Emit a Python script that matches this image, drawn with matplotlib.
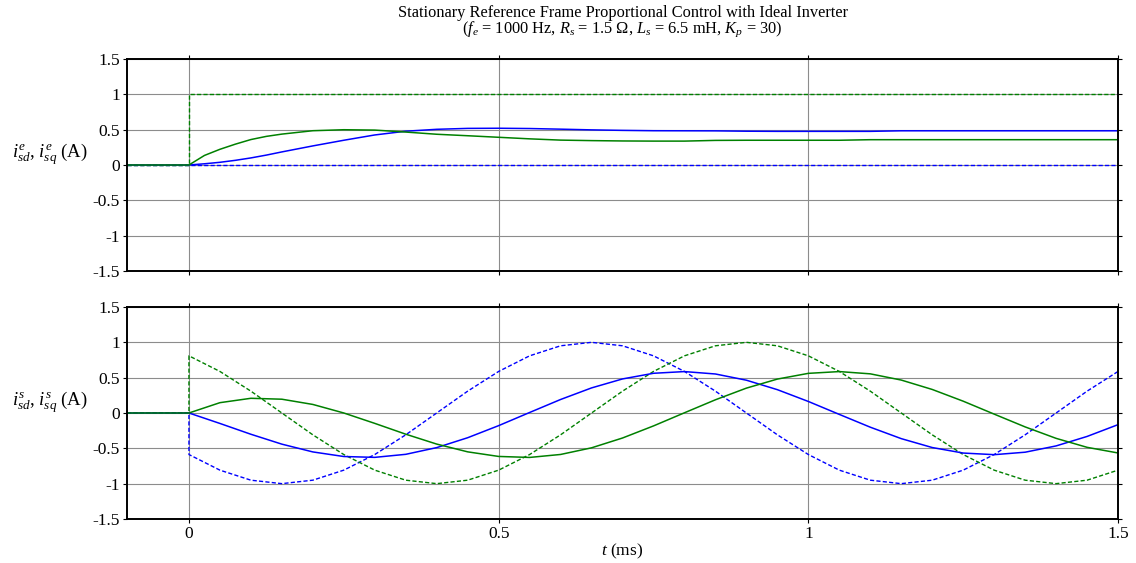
import matplotlib
matplotlib.use("Agg")
import matplotlib.pyplot as plt
import numpy as np

plt.rcParams["font.family"] = ["Liberation Serif", "DejaVu Serif"]
plt.rcParams["mathtext.fontset"] = "custom"
plt.rcParams["mathtext.rm"] = "Liberation Serif"
plt.rcParams["mathtext.it"] = "Liberation Serif:italic"

# pre-step segment (ms), all currents zero
t_pre = [-0.1, 0.0]

# synchronous frame (top panel), sample times in ms
t_top = [0.0, 0.025, 0.05, 0.075, 0.1, 0.125, 0.15, 0.2, 0.25, 0.3, 0.35, 0.4,
         0.45, 0.5, 0.55, 0.6, 0.65, 0.7, 0.75, 0.8, 0.85, 0.9, 0.95, 1.0,
         1.05, 1.1, 1.15, 1.2, 1.3, 1.4, 1.5]
isd_e_ref = [0.0] * len(t_top)
isq_e_ref = [1.0] * len(t_top)
isd_e = [0.000, 0.017, 0.038, 0.066, 0.100, 0.140, 0.185, 0.270, 0.350, 0.425, 0.478, 0.505,
         0.518, 0.520, 0.516, 0.507, 0.497, 0.490, 0.485, 0.484, 0.483, 0.478, 0.476, 0.476,
         0.476, 0.476, 0.484, 0.484, 0.484, 0.484, 0.484]
isq_e = [0.000, 0.135, 0.222, 0.295, 0.360, 0.405, 0.437, 0.485, 0.499, 0.494, 0.466, 0.435,
         0.414, 0.392, 0.370, 0.352, 0.345, 0.340, 0.338, 0.338, 0.348, 0.350, 0.350, 0.350,
         0.350, 0.358, 0.358, 0.358, 0.358, 0.358, 0.358]

# stationary frame (bottom panel)
t_bot = np.linspace(0.0, 1.5, 31)
isd_s_ref = [-0.588, -0.809, -0.951, -1.000, -0.951, -0.809, -0.588, -0.309, 0.000, 0.309,
             0.588, 0.809, 0.951, 1.000, 0.951, 0.809, 0.588, 0.309, 0.000, -0.309,
             -0.588, -0.809, -0.951, -1.000, -0.951, -0.809, -0.588, -0.309, 0.000, 0.309,
             0.588]
isq_s_ref = [0.809, 0.588, 0.309, 0.000, -0.309, -0.588, -0.809, -0.951, -1.000, -0.951,
             -0.809, -0.588, -0.309, 0.000, 0.309, 0.588, 0.809, 0.951, 1.000, 0.951,
             0.809, 0.588, 0.309, 0.000, -0.309, -0.588, -0.809, -0.951, -1.000, -0.951,
             -0.809]
isd_s = [0.000, -0.148, -0.301, -0.441, -0.551, -0.616, -0.628, -0.585, -0.490, -0.350,
         -0.179, 0.007, 0.191, 0.355, 0.482, 0.562, 0.586, 0.552, 0.464, 0.330,
         0.163, -0.020, -0.201, -0.363, -0.489, -0.567, -0.590, -0.555, -0.466, -0.332,
         -0.165]
isq_s = [0.000, 0.146, 0.208, 0.195, 0.121, 0.000, -0.147, -0.300, -0.440, -0.550,
         -0.615, -0.629, -0.587, -0.493, -0.354, -0.183, 0.003, 0.187, 0.352, 0.480,
         0.561, 0.586, 0.554, 0.466, 0.333, 0.167, -0.016, -0.197, -0.359, -0.486,
         -0.566]

y_ticks = [-1.5, -1, -0.5, 0, 0.5, 1, 1.5]
y_labels = ["-1.5", "-1", "-0.5", "0", "0.5", "1", "1.5"]
x_ticks = [0, 0.5, 1, 1.5]
x_labels = ["0", "0.5", "1", "1.5"]

BLUE = "#0000ff"
GREEN = "#008000"
DASH = (0, (3, 1.6))


def _series(tt, vals):
    return list(t_pre) + list(tt), [0.0, 0.0] + list(vals)


def _style(ax, ylabel):
    ax.set_xlim(-0.1, 1.5)
    ax.set_ylim(-1.5, 1.5)
    ax.set_yticks(y_ticks)
    ax.set_yticklabels(y_labels)
    ax.set_xticks(x_ticks)
    ax.grid(True, color="#8c8c8c", linewidth=0.8)
    ax.set_axisbelow(True)
    for s in ax.spines.values():
        s.set_linewidth(1.4)
    ax.tick_params(direction="out", length=3, width=0.8, pad=2, labelsize=12.5,
                   top=True, right=True)
    ax.set_ylabel(ylabel, rotation=0, fontsize=13.5, ha="right", va="center")
    ax.yaxis.set_label_coords(-0.039, 0.55)


def _panel(ax, tt, d_ref, q_ref, d, q):
    x, y = _series(tt, d_ref)
    ax.plot(x, y, color=BLUE, linewidth=1.0, linestyle=DASH)
    x, y = _series(tt, q_ref)
    ax.plot(x, y, color=GREEN, linewidth=1.0, linestyle=DASH)
    x, y = _series(tt, d)
    ax.plot(x, y, color=BLUE, linewidth=1.1)
    x, y = _series(tt, q)
    ax.plot(x, y, color=GREEN, linewidth=1.1)


fig = plt.figure(figsize=(11.36, 5.63), dpi=100)
ax1 = fig.add_axes([0.1118, 0.5187, 0.8724, 0.3765])
ax2 = fig.add_axes([0.1118, 0.0782, 0.8724, 0.3765])

_panel(ax1, t_top, isd_e_ref, isq_e_ref, isd_e, isq_e)
_style(ax1, r"$i^{e}_{sd}$, $i^{e}_{sq}$ (A)")
ax1.set_xticklabels([])

_panel(ax2, t_bot, isd_s_ref, isq_s_ref, isd_s, isq_s)
_style(ax2, r"$i^{s}_{sd}$, $i^{s}_{sq}$ (A)")
ax2.set_xticklabels(x_labels)
ax2.set_xlabel(r"$t$ (ms)", fontsize=12.5, labelpad=0)

fig.text(0.548, 0.9698, "Stationary Reference Frame Proportional Control with Ideal Inverter",
         ha="center", va="baseline", fontsize=11.8)
fig.text(0.548, 0.9414, r"($f_e$ = 1000 Hz, $R_s$ = 1.5 $\Omega$, $L_s$ = 6.5 mH, $K_p$ = 30)",
         ha="center", va="baseline", fontsize=11.8)

fig.savefig("out.png", dpi=100)
